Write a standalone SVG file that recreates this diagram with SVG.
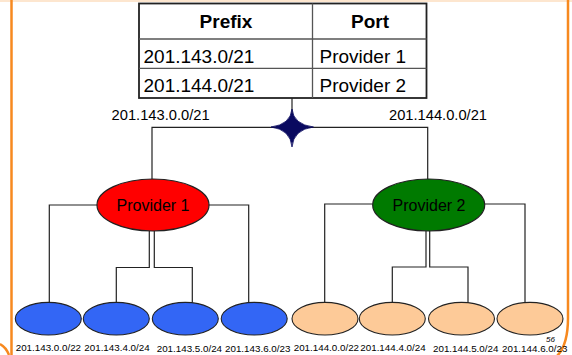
<svg xmlns="http://www.w3.org/2000/svg" width="572" height="355" viewBox="0 0 572 355">
  <style>
    text { font-family: "Liberation Sans", Arial, sans-serif; fill: #000; }
    .cell { font-size: 19px; }
    .head { font-size: 19px; font-weight: bold; text-anchor: middle; }
    .agg { font-size: 14.7px; }
    .prov { font-size: 16px; text-anchor: middle; }
    .leaf { font-size: 9.8px; }
    .wire { fill: none; stroke: #222; stroke-width: 1.2; }
    .grid { stroke: #555; stroke-width: 1.3; }
    .frame { fill: none; stroke: #f7891f; stroke-width: 2.5; }
    .blue { fill: #3366f5; stroke: #222; stroke-width: 1.1; }
    .peach { fill: #fdca98; stroke: #222; stroke-width: 1.1; }
  </style>

  <!-- slide frame -->
  <rect x="0" y="0" width="572" height="2" fill="#fde6cf"/>
  <line class="frame" x1="11.5" y1="0" x2="11.5" y2="355"/>
  <path class="frame" d="M568 0 V318 Q568 346 556 357"/>
  <path class="frame" stroke-width="1.6" d="M0 344 Q6 347 9 355"/>

  <!-- routing table -->
  <g id="table">
    <rect x="139" y="3.5" width="287.5" height="94.5" fill="#fff" stroke="#222" stroke-width="1.8"/>
    <line class="grid" x1="139" y1="39" x2="426.5" y2="39"/>
    <line class="grid" x1="139" y1="68.3" x2="426.5" y2="68.3"/>
    <line class="grid" x1="312.5" y1="3.5" x2="312.5" y2="98"/>
    <text class="head" x="226" y="28">Prefix</text>
    <text class="head" x="370" y="28">Port</text>
    <text class="cell" x="143.5" y="63">201.143.0/21</text>
    <text class="cell" x="319.5" y="63">Provider 1</text>
    <text class="cell" x="143.5" y="92">201.144.0/21</text>
    <text class="cell" x="319.5" y="92">Provider 2</text>
  </g>

  <!-- connectors -->
  <g id="connectors">
    <path class="wire" d="M292 98 V127"/>
    <path class="wire" d="M152 179 V127.3 H427.7 V179"/>
    <path class="wire" d="M97 205 H49.3 V302.5"/>
    <path class="wire" d="M209 205 H248.7 V302.5"/>
    <path class="wire" d="M149.3 231 V267.5 H116.3 V302.5"/>
    <path class="wire" d="M154.3 231 V267.5 H192.3 V302.5"/>
    <path class="wire" d="M372.7 204 H324.7 V302.5"/>
    <path class="wire" d="M484.7 204 H525 V302.5"/>
    <path class="wire" d="M426 231 V267 H392.3 V302.5"/>
    <path class="wire" d="M429.7 231 V267 H468 V302.5"/>
  </g>

  <text class="agg" x="111.6" y="120">201.143.0.0/21</text>
  <text class="agg" x="389" y="120">201.144.0.0/21</text>

  <!-- border router -->
  <g id="router">
    <path d="M292 109 Q293.5 124.5 313.5 127 Q293.5 129.5 292 147 Q290.5 129.5 271 127 Q290.5 124.5 292 109 Z" fill="#0a0a60" stroke="#0a0a60" stroke-width="0.8"/>
  </g>

  <!-- providers -->
  <g id="provider1">
    <ellipse cx="153" cy="205" rx="56" ry="26" fill="#ff0000" stroke="#222" stroke-width="1.2"/>
    <text class="prov" x="153" y="210.5">Provider 1</text>
  </g>
  <g id="provider2">
    <ellipse cx="428.7" cy="205" rx="56" ry="26" fill="#007a00" stroke="#222" stroke-width="1.2"/>
    <text class="prov" x="429" y="210.5">Provider 2</text>
  </g>

  <!-- customer networks of provider 1 -->
  <g id="c143-0">
    <ellipse class="blue" cx="48.3" cy="318.7" rx="33" ry="16.3"/>
    <text class="leaf" x="15.7" y="351">201.143.0.0/22</text>
  </g>
  <g id="c143-4">
    <ellipse class="blue" cx="116.3" cy="318.7" rx="33" ry="16.3"/>
    <text class="leaf" x="84.3" y="351">201.143.4.0/24</text>
  </g>
  <g id="c143-5">
    <ellipse class="blue" cx="185.3" cy="318.7" rx="33" ry="16.3"/>
    <text class="leaf" x="156.7" y="352">201.143.5.0/24</text>
  </g>
  <g id="c143-6">
    <ellipse class="blue" cx="254.2" cy="318.7" rx="33" ry="16.3"/>
    <text class="leaf" x="225" y="352">201.143.6.0/23</text>
  </g>

  <!-- customer networks of provider 2 -->
  <g id="c144-0">
    <ellipse class="peach" cx="325" cy="318.7" rx="33" ry="16.3"/>
    <text class="leaf" x="293.7" y="351">201.144.0.0/22</text>
  </g>
  <g id="c144-4">
    <ellipse class="peach" cx="392.3" cy="318.7" rx="33" ry="16.3"/>
    <text class="leaf" x="360.3" y="350.5">201.144.4.0/24</text>
  </g>
  <g id="c144-5">
    <ellipse class="peach" cx="461.5" cy="318.7" rx="33" ry="16.3"/>
    <text class="leaf" x="433" y="352">201.144.5.0/24</text>
  </g>
  <g id="c144-6">
    <ellipse class="peach" cx="530" cy="318.7" rx="33" ry="16.3"/>
    <text class="leaf" x="502" y="352">201.144.6.0/23</text>
  </g>

  <!-- slide number -->
  <text x="546" y="341.5" font-size="8" font-style="italic">56</text>
</svg>
